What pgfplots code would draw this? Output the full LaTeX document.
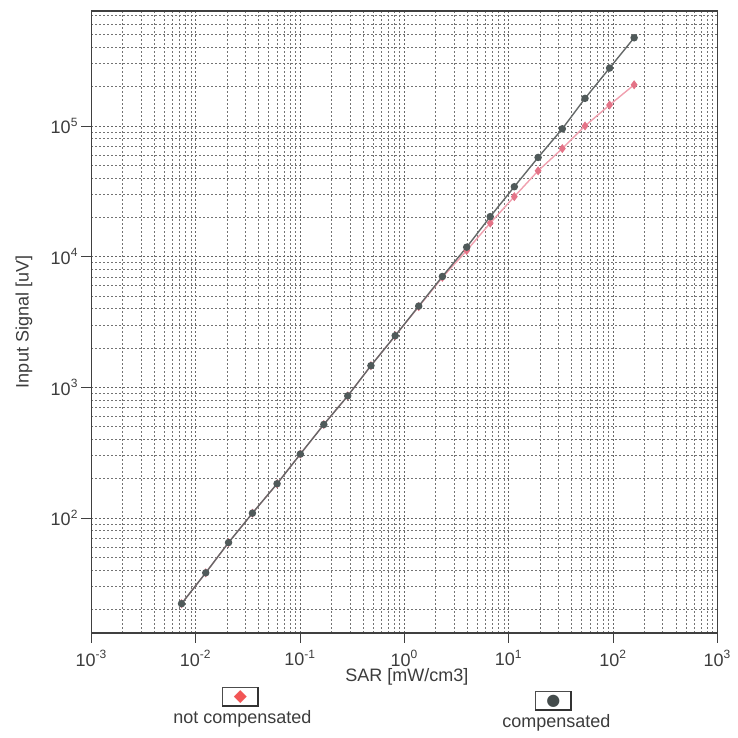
\documentclass[border=0pt]{standalone}
\usepackage{fontspec}
\setmainfont{Liberation Sans}
\newfontfamily\symfont{DejaVu Sans}
\usepackage{pgfplots}
\pgfplotsset{compat=1.18}

\definecolor{compline}{RGB}{100,104,104}
\definecolor{compmark}{RGB}{80,90,90}
\definecolor{ncline}{RGB}{240,160,175}
\definecolor{ncmark}{RGB}{228,115,135}
\definecolor{txt}{RGB}{60,60,60}

\pgfplotstableread{
x y
0.0073 22.1
0.01245 38.1
0.0206 64.9
0.0349 109
0.0601 183
0.1005 309
0.1686 520
0.286 861
0.477 1466
0.815 2486
1.37 4190
2.31 7063
3.95 11830
6.64 20270
11.3 34360
19.1 57540
32.6 95300
53.8 163000
92.5 278000
159 474000
}\compensated

\pgfplotstableread{
x y
0.0073 22.1
0.01245 38.1
0.0206 64.9
0.0349 109
0.0601 183
0.1005 309
0.1686 520
0.286 861
0.477 1466
0.815 2486
1.37 4150
2.31 6950
3.95 11150
6.64 18100
11.3 28840
19.1 45450
32.6 67300
53.8 100200
92.5 145000
159 207000
}\notcompensated

\begin{document}
\begin{tikzpicture}[font=\fontsize{9}{11}\selectfont, text=txt]
\begin{axis}[
  at={(0,0)}, anchor=south west,
  xmode=log, ymode=log,
  width=313pt, height=311pt, scale only axis,
  xmin=1e-3, xmax=1e3, ymin=13.2, ymax=7.6e5,
  xtick={1e-3,1e-2,1e-1,1,1e1,1e2,1e3},
  xticklabels={10\textsuperscript{-3},10\textsuperscript{-2},10\textsuperscript{-1},10\textsuperscript{0},10\textsuperscript{1},10\textsuperscript{2},10\textsuperscript{3}},
  ytick={1e2,1e3,1e4,1e5},
  yticklabels={10\textsuperscript{2},10\textsuperscript{3},10\textsuperscript{4},10\textsuperscript{5}},
  minor xtick={2e-3,3e-3,4e-3,5e-3,6e-3,7e-3,8e-3,9e-3,
    2e-2,3e-2,4e-2,5e-2,6e-2,7e-2,8e-2,9e-2,
    2e-1,3e-1,4e-1,5e-1,6e-1,7e-1,8e-1,9e-1,
    2,3,4,5,6,7,8,9,
    20,30,40,50,60,70,80,90,
    200,300,400,500,600,700,800,900},
  minor ytick={20,30,40,50,60,70,80,90,
    200,300,400,500,600,700,800,900,
    2000,3000,4000,5000,6000,7000,8000,9000,
    2e4,3e4,4e4,5e4,6e4,7e4,8e4,9e4,
    2e5,3e5,4e5,5e5,6e5,7e5},
  xtick pos=bottom, ytick pos=left,
  tick align=outside,
  major tick length=5pt, minor tick length=0pt,
  tick style={black!75, line width=0.5pt},
  axis line style={black!75, line width=0.6pt},
  grid=both,
  major grid style={black!60, line width=0.4pt, dash pattern=on 1pt off 1pt},
  minor grid style={black!55, line width=0.4pt, dash pattern=on 1pt off 1pt},
  xlabel={SAR [mW/cm3]},
  ylabel={Input Signal [uV]},
  xlabel style={at={(axis description cs:0.504,-0.071)}, anchor=center},
  ylabel style={at={(axis description cs:-0.108,0.5)}, anchor=center},
  yticklabel style={xshift=2pt},
]
\addplot[color=ncline, line width=0.7pt, mark=diamond*, mark size=1.7pt,
  mark options={fill=ncmark, draw=ncmark}] table[x=x, y=y] {\notcompensated};
\addplot[color=compline, line width=0.7pt, mark=*, mark size=1.5pt,
  mark options={fill=compmark, draw=compmark}] table[x=x, y=y] {\compensated};
\end{axis}

% legend below the axis
\node[draw=black!70, fill=white, line width=0.5pt, minimum width=17.5pt, minimum height=9pt, inner sep=0pt]
  (nc) at (74.5pt,-32pt) {\symfont\fontsize{8.5}{8.5}\selectfont\color{red!65!white!95!black}◆};
\draw[black!80, line width=1pt] (nc.north east) -- (nc.south east) -- (nc.south west);
\node at (75.5pt,-43pt) {not compensated};
\node[draw=black!70, fill=white, line width=0.5pt, minimum width=17.5pt, minimum height=9pt, inner sep=0pt]
  (cp) at (231pt,-34pt) {\symfont\fontsize{8}{8}\selectfont\color{compmark!85!black}●};
\draw[black!80, line width=1pt] (cp.north east) -- (cp.south east) -- (cp.south west);
\node at (232.5pt,-45pt) {compensated};

% page frame matching the reference margins
\path (-45.75pt,-52.5pt) rectangle (320.75pt,316.5pt);
\end{tikzpicture}
\end{document}
